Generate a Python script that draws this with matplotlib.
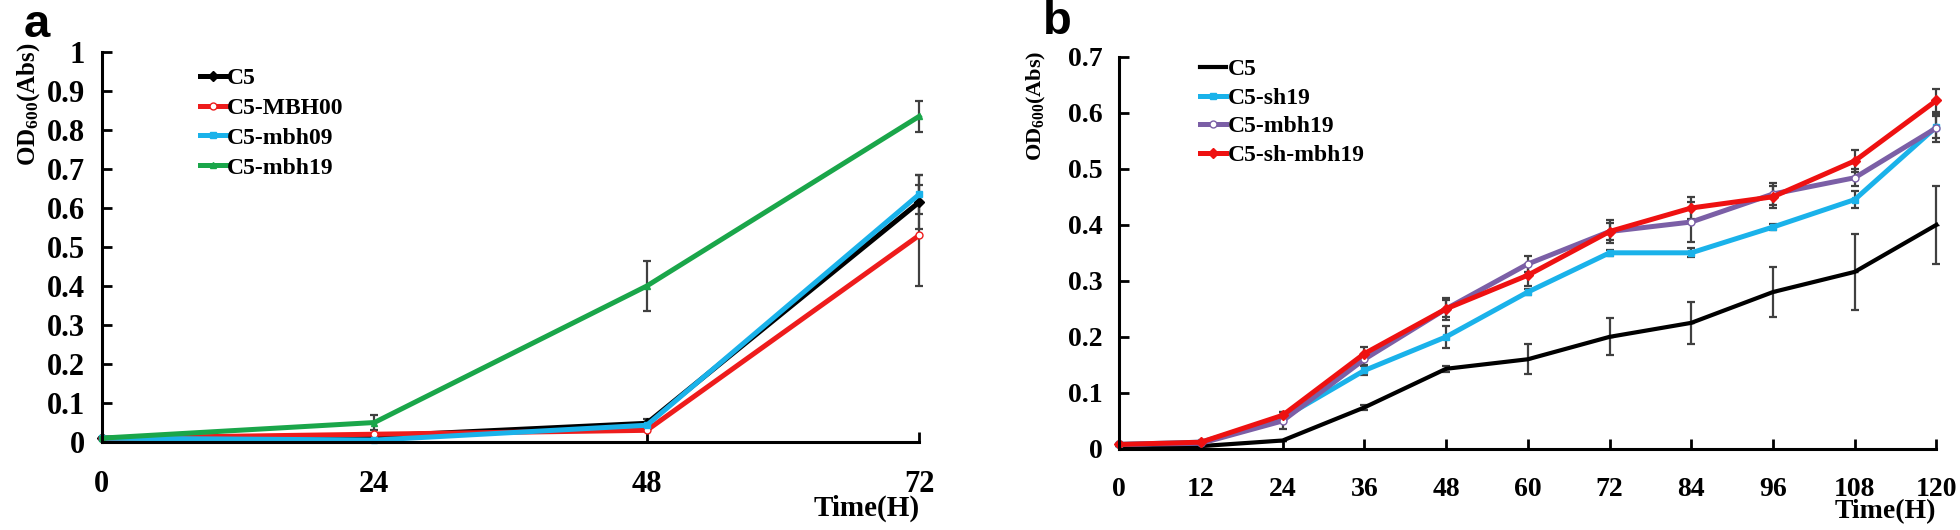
import matplotlib
matplotlib.use("Agg")
import matplotlib.pyplot as plt

plt.rcParams['font.family'] = ['Liberation Serif', 'DejaVu Serif']
plt.rcParams['font.weight'] = 'bold'
plt.rcParams['mathtext.fontset'] = 'custom'
plt.rcParams['mathtext.rm'] = 'Liberation Serif:bold'
plt.rcParams['mathtext.default'] = 'rm'

# panel a data
time_a = [0, 24, 48, 72]
a_c5 = [0.01, 0.015, 0.048, 0.615]
a_c5_err = [0.0, 0.0, 0.01, 0.07]
a_mbh00 = [0.01, 0.02, 0.03, 0.53]
a_mbh00_err = [0.0, 0.0, 0.0, 0.13]
a_mbh09 = [0.01, 0.005, 0.043, 0.635]
a_mbh09_err = [0.0, 0.0, 0.0, 0.05]
a_mbh19 = [0.01, 0.05, 0.40, 0.835]
a_mbh19_err = [0.0, 0.02, 0.065, 0.04]

# panel b data
time_b = [0, 12, 24, 36, 48, 60, 72, 84, 96, 108, 120]
b_c5 = [0.005, 0.005, 0.015, 0.074, 0.143, 0.16, 0.20, 0.225, 0.28, 0.316, 0.40]
b_c5_err = [0.0, 0.0, 0.0, 0.005, 0.005, 0.027, 0.033, 0.038, 0.045, 0.068, 0.07]
b_sh19 = [0.008, 0.012, 0.055, 0.14, 0.20, 0.28, 0.35, 0.35, 0.396, 0.445, 0.575]
b_sh19_err = [0.0, 0.0, 0.005, 0.008, 0.02, 0.005, 0.005, 0.008, 0.005, 0.015, 0.02]
b_mbh19 = [0.008, 0.01, 0.05, 0.16, 0.25, 0.33, 0.388, 0.405, 0.455, 0.484, 0.573]
b_mbh19_err = [0.0, 0.0, 0.015, 0.01, 0.015, 0.015, 0.02, 0.035, 0.02, 0.015, 0.025]
b_shmbh19 = [0.008, 0.012, 0.06, 0.17, 0.25, 0.31, 0.388, 0.43, 0.45, 0.514, 0.622]
b_shmbh19_err = [0.0, 0.0, 0.005, 0.012, 0.02, 0.02, 0.015, 0.02, 0.02, 0.02, 0.02]

ecol = '#404040'

fig = plt.figure(figsize=(19.6, 5.3), dpi=100)
ax1 = fig.add_axes([0.052, 0.166, 0.417, 0.736])
ax2 = fig.add_axes([0.571, 0.153, 0.417, 0.740])

def line(ax, x, y, err, color, marker, label, lw=3.6, mfc=None):
    c = ax.errorbar(x, y, yerr=err, color=color, lw=lw, marker=marker, ms=5,
                    mfc=mfc if mfc else color, mec=color, ecolor=ecol,
                    elinewidth=1.6, capsize=3, capthick=1.6)
    c.lines[0].set_label(label)
    return c.lines[0]

h1 = [line(ax1, time_a, a_c5, a_c5_err, 'black', 'D', 'C5'),
      line(ax1, time_a, a_mbh00, a_mbh00_err, '#ee1c1c', 'o', 'C5-MBH00', mfc='white'),
      line(ax1, time_a, a_mbh09, a_mbh09_err, '#1ab2ea', 's', 'C5-mbh09'),
      line(ax1, time_a, a_mbh19, a_mbh19_err, '#1aa64a', '^', 'C5-mbh19')]

h2 = [line(ax2, time_b, b_c5, b_c5_err, 'black', '_', 'C5', lw=3.0),
      line(ax2, time_b, b_sh19, b_sh19_err, '#1ab2ea', 's', 'C5-sh19'),
      line(ax2, time_b, b_mbh19, b_mbh19_err, '#7b5fa6', 'o', 'C5-mbh19', mfc='white'),
      line(ax2, time_b, b_shmbh19, b_shmbh19_err, '#ee1111', 'D', 'C5-sh-mbh19')]

for ax, xt, ymax, yt, fs in [(ax1, time_a, 1.0, [0, 0.1, 0.2, 0.3, 0.4, 0.5, 0.6, 0.7, 0.8, 0.9, 1], 22),
                             (ax2, time_b, 0.7, [0, 0.1, 0.2, 0.3, 0.4, 0.5, 0.6, 0.7], 20)]:
    ax.set_xlim(xt[0], xt[-1])
    ax.set_ylim(0, ymax)
    ax.set_xticks(xt)
    ax.set_yticks(yt)
    ax.set_yticklabels(['0' if v == 0 else ('1' if v == 1 else '%g' % v) for v in yt])
    ax.spines['top'].set_visible(False)
    ax.spines['right'].set_visible(False)
    ax.spines['left'].set_linewidth(2.2)
    ax.spines['bottom'].set_linewidth(2.2)
    ax.tick_params(direction='in', length=7, width=2, labelsize=fs)
    ax.tick_params(axis='x', pad=20)
    ax.tick_params(axis='y', pad=12)
    for lab in ax.get_xticklabels() + ax.get_yticklabels():
        lab.set_fontweight('bold')
    for art in ax.get_children():
        art.set_clip_on(False)

ax1.text(1.0, -0.135, 'Time(H)', transform=ax1.transAxes, ha='right', va='top',
         fontsize=21, fontweight='bold')
ax2.text(1.0, -0.128, 'Time(H)', transform=ax2.transAxes, ha='right', va='top',
         fontsize=20, fontweight='bold')

ax1.legend(handles=h1, loc='upper left', bbox_to_anchor=(0.105, 0.99), frameon=False,
           handlelength=1.1, handletextpad=0.05, labelspacing=0.35, borderpad=0,
           prop={'weight': 'bold', 'size': 17})
ax2.legend(handles=h2, loc='upper left', bbox_to_anchor=(0.085, 1.025), frameon=False,
           handlelength=1.1, handletextpad=0.05, labelspacing=0.3, borderpad=0,
           prop={'weight': 'bold', 'size': 17})

fig.text(0.0075, 0.92, r'OD$_{600}$(Abs)', rotation=90, ha='left', va='top',
         fontsize=18, fontweight='bold')
fig.text(0.523, 0.905, r'OD$_{600}$(Abs)', rotation=90, ha='left', va='top',
         fontsize=16, fontweight='bold')

fig.text(0.012, 0.995, 'a', ha='left', va='top', fontsize=34, fontweight='bold',
         family='Liberation Sans')
fig.text(0.532, 1.0, 'b', ha='left', va='top', fontsize=34, fontweight='bold',
         family='Liberation Sans')

fig.savefig('out.png', dpi=100)
